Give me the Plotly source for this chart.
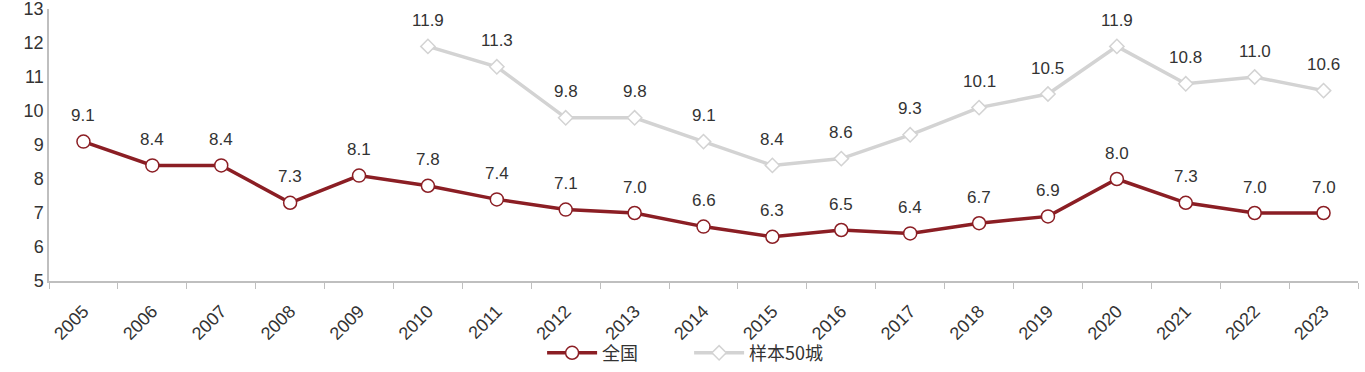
import plotly.graph_objects as go

years = [str(y) for y in range(2005, 2024)]
national = [9.1, 8.4, 8.4, 7.3, 8.1, 7.8, 7.4, 7.1, 7.0, 6.6, 6.3, 6.5, 6.4, 6.7, 6.9, 8.0, 7.3, 7.0, 7.0]
sample50 = [None, None, None, None, None, 11.9, 11.3, 9.8, 9.8, 9.1, 8.4, 8.6, 9.3, 10.1, 10.5, 11.9, 10.8, 11.0, 10.6]
yticks = [5, 6, 7, 8, 9, 10, 11, 12, 13]

red = "#8b1e24"
gray = "#d3d3d3"
font = "Liberation Sans, Arial, sans-serif"
txt = "#333333"

fig = go.Figure()
fig.add_trace(go.Scatter(
    x=years, y=national, name="全国", mode="lines+markers",
    line=dict(color=red, width=3.5),
    marker=dict(symbol="circle", size=13, color="white", line=dict(color=red, width=1.5)),
))
fig.add_trace(go.Scatter(
    x=years, y=sample50, name="样本50城", mode="lines+markers",
    line=dict(color=gray, width=3.5),
    marker=dict(symbol="diamond", size=11, color="white", line=dict(color=gray, width=1.5)),
))

# data labels (category axis annotations use the category index)
for series in (national, sample50):
    for i, v in enumerate(series):
        if v is None:
            continue
        fig.add_annotation(x=i, y=v, xref="x", yref="y", text=f"{v:.1f}", showarrow=False,
                           yshift=26, yanchor="middle",
                           font=dict(size=17, color=txt, family=font))

fig.update_layout(
    width=1365, height=372,
    margin=dict(l=49, r=7, t=9, b=91, autoexpand=False),
    plot_bgcolor="white", paper_bgcolor="white",
    font=dict(family=font, size=17, color=txt),
    showlegend=True,
    hovermode=False,
    legend=dict(orientation="h", x=0.489, xanchor="center", y=-0.265, yanchor="middle",
                bgcolor="rgba(0,0,0,0)",
                font=dict(size=18, family="Noto Sans CJK SC, " + font),
                itemwidth=50, entrywidth=82),
    xaxis=dict(type="category", tickangle=-45, showline=True, linecolor="#bfbfbf", linewidth=1.5,
               ticks="outside", tickson="boundaries", ticklen=6, tickcolor="#bfbfbf",
               ticklabelstandoff=11,
               showgrid=False, tickfont=dict(size=18), range=[-0.5, 18.5], automargin=False),
    yaxis=dict(range=[5, 13], tickvals=yticks, showline=True, linecolor="#bfbfbf", linewidth=1.5,
               showgrid=False, zeroline=False, ticks="", tickfont=dict(size=18), automargin=False,
               ticklabeloverflow="allow"),
)

fig.write_html("out.html", config={"displayModeBar": False},
               post_script="document.body.style.margin='0px';document.body.style.overflow='hidden';")
